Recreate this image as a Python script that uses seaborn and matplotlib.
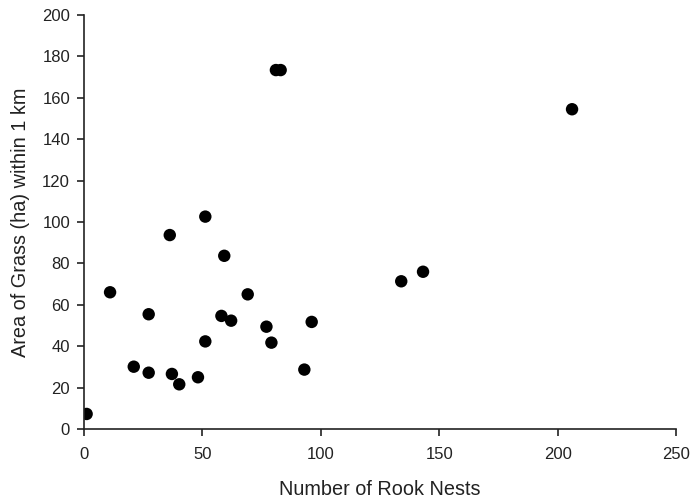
import matplotlib
matplotlib.use("Agg")
import matplotlib.pyplot as plt
import seaborn as sns
import pandas as pd

rook_nests = [1.1, 11.0, 21.0, 27.3, 27.3, 36.2, 37.1, 40.2, 48.1, 51.2, 58.0, 59.2,
              62.1, 69.1, 77.0, 79.1, 93.0, 96.1, 51.2, 81.0, 83.0, 206.0, 133.9, 143.1]
grass_area = [7.4, 66.1, 30.2, 55.5, 27.3, 93.7, 26.7, 21.7, 25.1, 42.4, 54.7, 83.7,
              52.4, 65.1, 49.5, 41.8, 28.8, 51.8, 102.6, 173.3, 173.3, 154.4, 71.4, 76.0]
x_ticks = [0, 50, 100, 150, 200, 250]
y_ticks = [0, 20, 40, 60, 80, 100, 120, 140, 160, 180, 200]

df = pd.DataFrame({"nests": rook_nests, "grass": grass_area})

sns.set_theme(style="ticks")
plt.rcParams["font.family"] = ["Liberation Sans", "DejaVu Sans"]

fig = plt.figure(figsize=(6.92, 4.99), dpi=100)
ax = fig.add_axes([0.1214, 0.1397, 0.8559, 0.8308])
sns.scatterplot(data=df, x="nests", y="grass", ax=ax, color="black",
                s=80, edgecolor="none", linewidth=0)
ax.set_xlim(0, 250)
ax.set_ylim(0, 200)
ax.set_xticks(x_ticks)
ax.set_yticks(y_ticks)
ax.tick_params(axis="both", labelsize=12, colors="#222222", length=5, width=1.2,
               direction="out", pad=5)
ax.tick_params(axis="x", pad=8)
for sp in ["top", "right"]:
    ax.spines[sp].set_visible(False)
for sp in ["left", "bottom"]:
    ax.spines[sp].set_color("#222222")
    ax.spines[sp].set_linewidth(1.2)
ax.set_xlabel("Number of Rook Nests", fontsize=14.3, color="#222222", labelpad=13)
ax.set_ylabel("Area of Grass (ha) within 1 km", fontsize=14.3, color="#222222", labelpad=9)

fig.savefig("out.png", dpi=100)
